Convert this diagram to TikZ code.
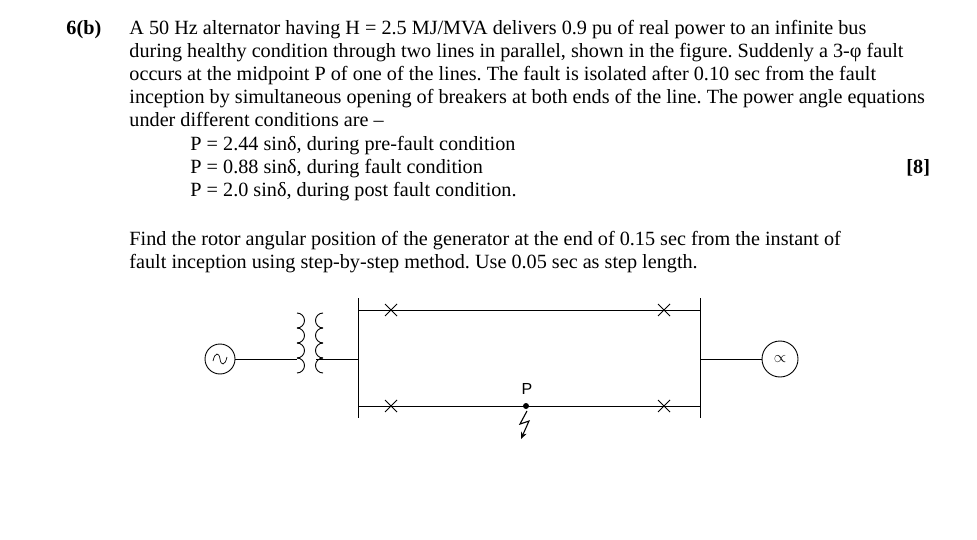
\documentclass[tikz,border=0pt]{standalone}
\usepackage{fontspec}
\setmainfont{Liberation Serif}
\newfontfamily\sfont{Liberation Sans}
\usetikzlibrary{arrows.meta}
\begin{document}
\frenchspacing
\begin{tikzpicture}[x=1pt,y=-1pt,line width=0.9pt,
  txt/.style={anchor=base west,inner sep=0,font=\fontsize{20.2}{22}\selectfont},
  brk/.style={line width=0.8pt}]
\useasboundingbox (0,0) rectangle (977,540);
\node[txt,font=\fontsize{20.2}{22}\selectfont\bfseries] (q) at (66,35) {6(b)};
\node[txt] (l1) at (129,35) {A 50 Hz alternator having H = 2.5 MJ/MVA delivers 0.9 pu of real power to an infinite bus};
\node[txt] (l2) at (129,58) {during healthy condition through two lines in parallel, shown in the figure. Suddenly a 3-φ fault};
\node[txt] (l3) at (129,81) {occurs at the midpoint P of one of the lines. The fault is isolated after 0.10 sec from the fault};
\node[txt] (l4) at (129,104) {inception by simultaneous opening of breakers at both ends of the line. The power angle equations};
\node[txt] (l5) at (129,127) {under different conditions are –};
\node[txt] (e1) at (190,151) {P = 2.44 sinδ, during pre-fault condition};
\node[txt] (e2) at (190,174) {P = 0.88 sinδ, during fault condition};
\node[txt] (e3) at (190,197) {P = 2.0 sinδ, during post fault condition.};
\node[txt,font=\fontsize{20.2}{22}\selectfont\bfseries] (m) at (906,174) {[8]};
\node[txt] (f1) at (129,245) {Find the rotor angular position of the generator at the end of 0.15 sec from the instant of};
\node[txt] (f2) at (129,268) {fault inception using step-by-step method. Use 0.05 sec as step length.};
% diagram
\node[draw,circle,minimum size=30pt,inner sep=0] (g) at (220,359) {};
\draw[line width=0.7pt] (213,361) .. controls (215,352) and (219,352) .. (220,359) .. controls (221,366) and (225,366) .. (227,357);
\coordinate (t1) at (297,359);
\draw (g.east) -- (t1);
\foreach \k in {0,1,2,3}{
  \draw (297,328+15*\k) arc (90:-90:7.5);
  \draw (323,328+15*\k) arc (90:270:7.5);
}
\coordinate (t2) at (316,359);
\coordinate (b1t) at (358,298); \coordinate (b1b) at (358,418); \coordinate (b1m) at (358,359);
\coordinate (b2t) at (700,298); \coordinate (b2b) at (700,418); \coordinate (b2m) at (700,359);
\draw (b1t) -- (b1b); \draw (b2t) -- (b2b);
\draw (t2) -- (b1m);
\coordinate (a1) at (358,310); \coordinate (a2) at (700,310);
\coordinate (c1) at (358,406); \coordinate (c2) at (700,406);
\draw (a1) -- (a2); \draw (c1) -- (c2);
\foreach \x/\y in {391/310,391/406,664/310,664/406}
  \draw[brk] (\x-6,\y-6) -- (\x+6,\y+6) (\x-6,\y+6) -- (\x+6,\y-6);
\node[draw,circle,minimum size=36pt,inner sep=0] (ib) at (780,359) {\scalebox{1.6}{$\propto$}};
\draw (b2m) -- (ib.west);
\fill (526,406) circle (3);
\node[font=\sfont\fontsize{16}{16}\selectfont] (p) at (527,389) {P};
\draw[line width=1.1pt,-{Stealth[length=7pt,width=6pt]}] (527,411) -- (520,424) -- (529,421) -- (521,439);
\end{tikzpicture}
\end{document}
